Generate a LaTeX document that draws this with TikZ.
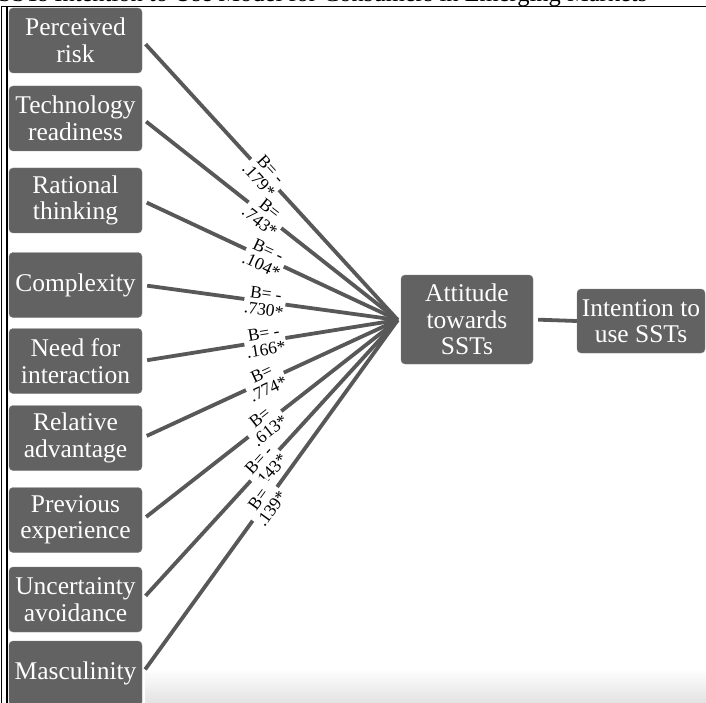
\documentclass[tikz,border=0pt]{standalone}
\usepackage{fontspec}
\setmainfont{Liberation Serif}
\usepackage{tikz}
\usetikzlibrary{calc}

\definecolor{boxgray}{RGB}{98,98,98}
\definecolor{linegray}{RGB}{88,88,88}

\begin{document}
\begin{tikzpicture}[x=1pt, y=-1pt,
    factor/.style={rectangle, rounded corners=4pt, fill=boxgray, draw=boxgray!80!white,
      text=white, align=center, minimum width=133pt, minimum height=65pt, inner sep=0pt,
      font=\fontsize{25.5}{26.5}\selectfont},
    link/.style={draw=linegray, line width=3.8pt, shorten <=5pt},
    coef/.style={sloped, pos=0.48, fill=white, inner sep=1pt, align=center, text=black,
      font=\fontsize{17.5}{16.5}\selectfont}]
    \useasboundingbox (0,0) rectangle (706,703);
    % page frame and the cut title above it
    \shade[top color=white, bottom color=black!11] (145,668) rectangle (706,703);
    \node[anchor=base west, inner sep=0pt, font=\fontsize{24.5}{25}\selectfont] (title) at (-2,1.5)
      {SSTs Intention to Use Model for Consumers in Emerging Markets};
    \draw[line width=1.2pt] (1,6.5) -- (706,6.5);
    \draw[line width=0.8pt] (1.5,6.5) -- (1.5,703);
    \draw[line width=1.8pt] (7,6.5) -- (7,703);
    % antecedents
    \node[factor] (pr) at (75.5,40.5)  {Perceived\\risk};
    \node[factor] (tr) at (75.5,118.5) {Technology\\readiness};
    \node[factor] (rt) at (75.5,200.5) {Rational\\thinking};
    \node[factor] (cx) at (75.5,285)   {Complexity};
    \node[factor] (ni) at (75.5,361)   {Need for\\interaction};
    \node[factor] (ra) at (75.5,438)   {Relative\\advantage};
    \node[factor] (pe) at (75.5,520)   {Previous\\experience};
    \node[factor] (ua) at (75.5,599.5) {Uncertainty\\avoidance};
    \node[factor] (ma) at (75.5,673.5) {Masculinity};
    % attitude and intention
    \node[factor, minimum width=132pt, minimum height=89pt] (att) at (467,319.5)
      {Attitude\\towards\\SSTs};
    \node[factor, minimum width=128pt, minimum height=64pt] (int) at (641,321)
      {Intention to\\use SSTs};
    \coordinate (hub) at ($(att.west)+(-3,0.5)$);
    % paths with their coefficients
    \draw[link] (pr.east) -- node[coef]{B= -\\.179*} (hub);
    \draw[link] (tr.east) -- node[coef]{B=\\.743*} (hub);
    \draw[link] (rt.east) -- node[coef]{B= -\\.104*} (hub);
    \draw[link] (cx.east) -- node[coef]{B= -\\.730*} (hub);
    \draw[link] (ni.east) -- node[coef]{B= -\\.166*} (hub);
    \draw[link] (ra.east) -- node[coef]{B=\\.774*} (hub);
    \draw[link] (pe.east) -- node[coef]{B=\\.613*} (hub);
    \draw[link] (ua.east) -- node[coef]{B= -\\.143*} (hub);
    \draw[link] (ma.east) -- node[coef]{B=\\.139*} (hub);
    \draw[link, shorten >=0pt] (att.east) -- (int.west);
  \end{tikzpicture}
\end{document}
